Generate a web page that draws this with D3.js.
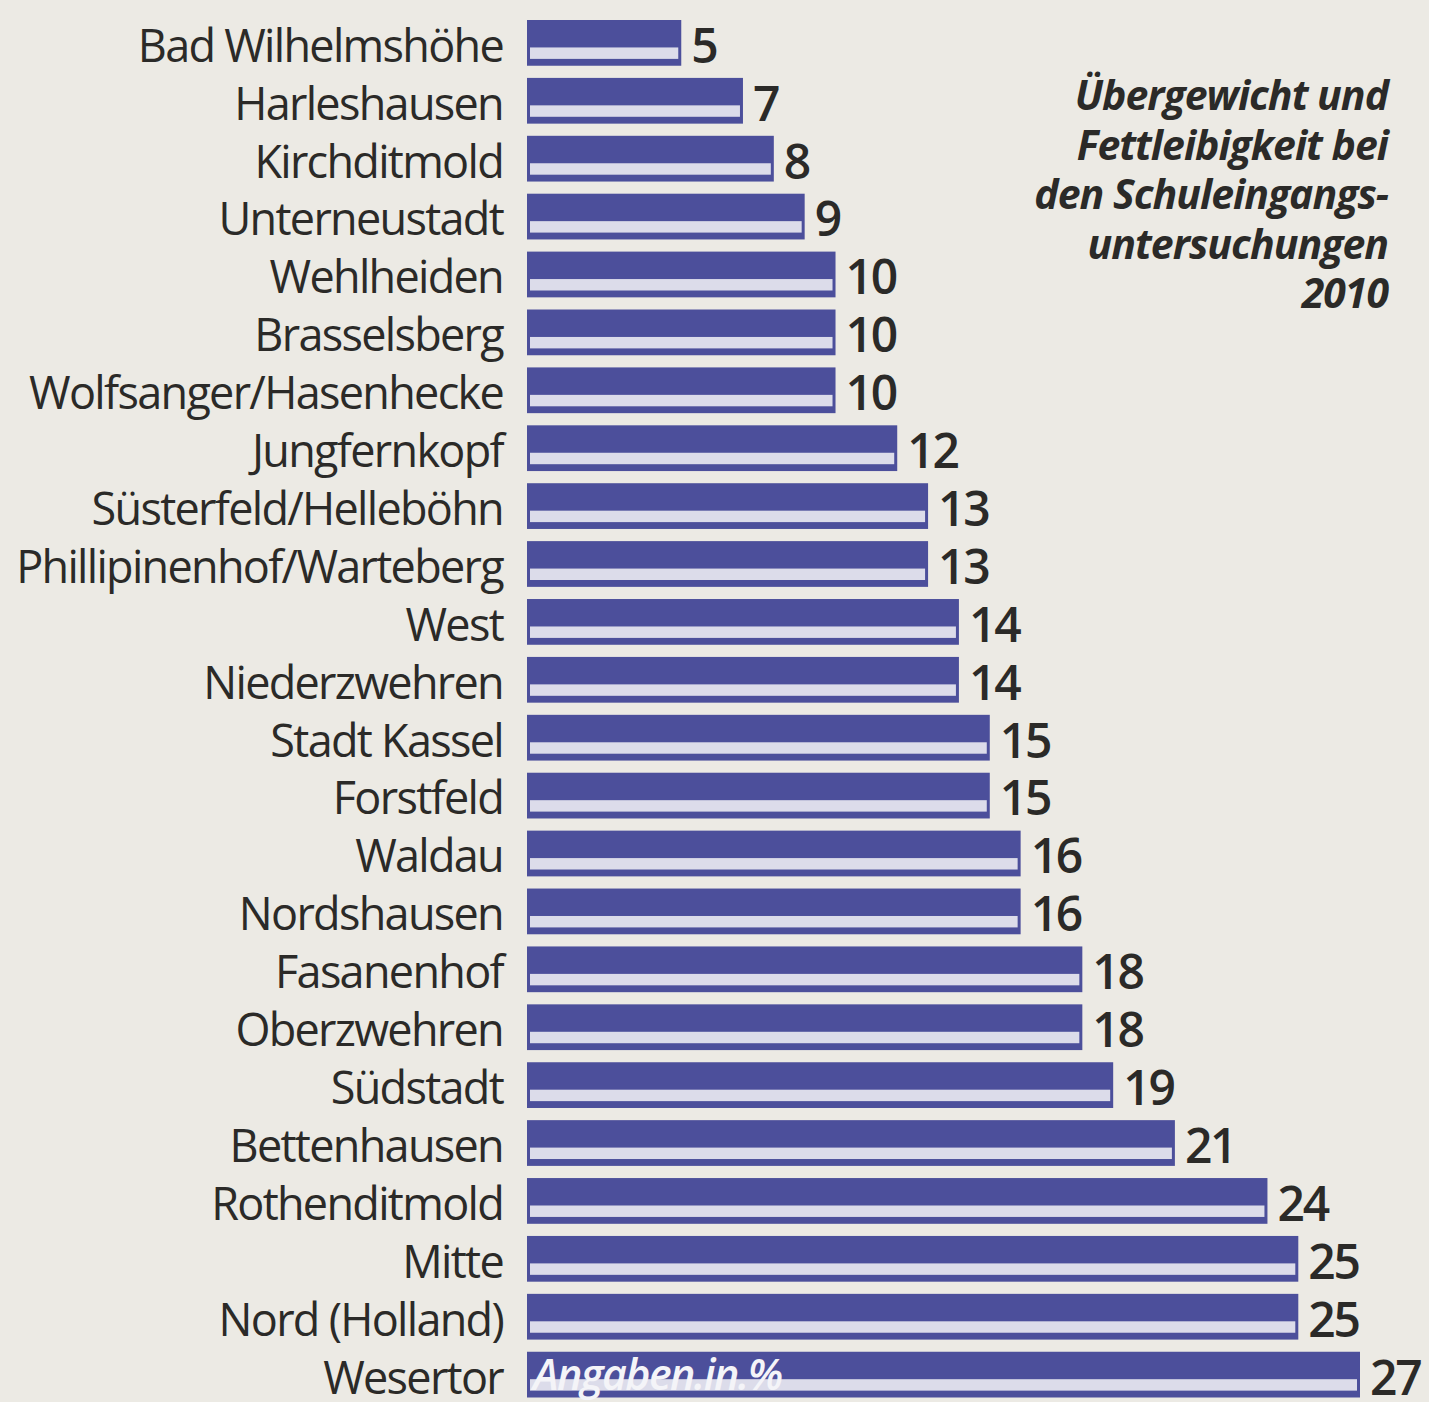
<!DOCTYPE html>
<html>
<head>
<meta charset="utf-8">
<script src="https://cdn.jsdelivr.net/npm/d3@7"></script>
<style>
  body { margin: 0; background: #eceae4; }
  svg { display: block; }
</style>
</head>
<body>
<svg id="chart" width="1429" height="1402"></svg>
<script>
// districts of Kassel, share of overweight children (%)
var districts = ["Bad Wilhelmshöhe", "Harleshausen", "Kirchditmold", "Unterneustadt",
  "Wehlheiden", "Brasselsberg", "Wolfsanger/Hasenhecke", "Jungfernkopf",
  "Süsterfeld/Helleböhn", "Phillipinenhof/Warteberg", "West", "Niederzwehren",
  "Stadt Kassel", "Forstfeld", "Waldau", "Nordshausen", "Fasanenhof",
  "Oberzwehren", "Südstadt", "Bettenhausen", "Rothenditmold", "Mitte",
  "Nord (Holland)", "Wesertor"];
var values = [5, 7, 8, 9, 10, 10, 10, 12, 13, 13, 14, 14, 15, 15, 16, 16, 18, 18, 19, 21, 24, 25, 25, 27];
var titleLines = ["Übergewicht und", "Fettleibigkeit bei", "den Schuleingangs-", "untersuchungen", "2010"];
var unitNote = "Angaben.in.%";

var svg = d3.select("#chart");
var blue = "#4c4f9b", light = "#dcdcea", ink = "#2b2a28";
var font = "'Open Sans', 'Noto Sans', sans-serif";

svg.append("rect").attr("width", 1429).attr("height", 1402).attr("fill", "#eceae4");

var x = d3.scaleLinear().domain([0, 27]).range([527, 1360]);
var y = d3.scaleBand().domain(districts).range([20, 1397.5]).paddingInner(0.21).paddingOuter(0);
var bh = y.bandwidth();

var rows = svg.selectAll("g.row").data(districts)
  .enter().append("g")
    .attr("class", "row")
    .attr("transform", function(d) { return "translate(0," + y(d) + ")"; });

// bar body
rows.append("rect")
  .attr("x", x(0))
  .attr("width", function(d, i) { return x(values[i]) - x(0); })
  .attr("height", bh)
  .attr("fill", blue);

// light stripe
rows.append("rect")
  .attr("x", x(0) + 3)
  .attr("y", bh * 0.6)
  .attr("width", function(d, i) { return x(values[i]) - x(0) - 6; })
  .attr("height", bh * 0.25)
  .attr("fill", light);

// category labels
rows.append("text")
  .attr("x", 503)
  .attr("y", bh - 4)
  .attr("text-anchor", "end")
  .attr("font-family", font)
  .attr("font-size", 45)
  .attr("letter-spacing", -1.7)
  .attr("fill", ink)
  .text(function(d) { return d; });

// value labels
rows.append("text")
  .attr("x", function(d, i) { return x(values[i]) + 10; })
  .attr("y", bh - 3)
  .attr("font-family", font)
  .attr("font-size", 48)
  .attr("font-weight", 600)
  .attr("letter-spacing", -2.2)
  .attr("fill", ink)
  .text(function(d, i) { return values[i]; });

// note inside last bar
svg.append("text")
  .attr("x", 533)
  .attr("y", y(districts[districts.length - 1]) + bh - 8)
  .attr("font-family", font)
  .attr("font-style", "italic")
  .attr("font-weight", 600)
  .attr("font-size", 43)
  .attr("letter-spacing", -1.6)
  .attr("fill", "#f4f4f8")
  .text(unitNote);

// title block
svg.append("g").selectAll("text").data(titleLines)
  .enter().append("text")
    .attr("x", 1388)
    .attr("y", function(d, i) { return 110 + i * 49.5; })
    .attr("text-anchor", "end")
    .attr("font-family", font)
    .attr("font-style", "italic")
    .attr("font-weight", 700)
    .attr("font-size", 41)
    .attr("letter-spacing", -1)
    .attr("fill", ink)
    .text(function(d) { return d; });
</script>
</body>
</html>
